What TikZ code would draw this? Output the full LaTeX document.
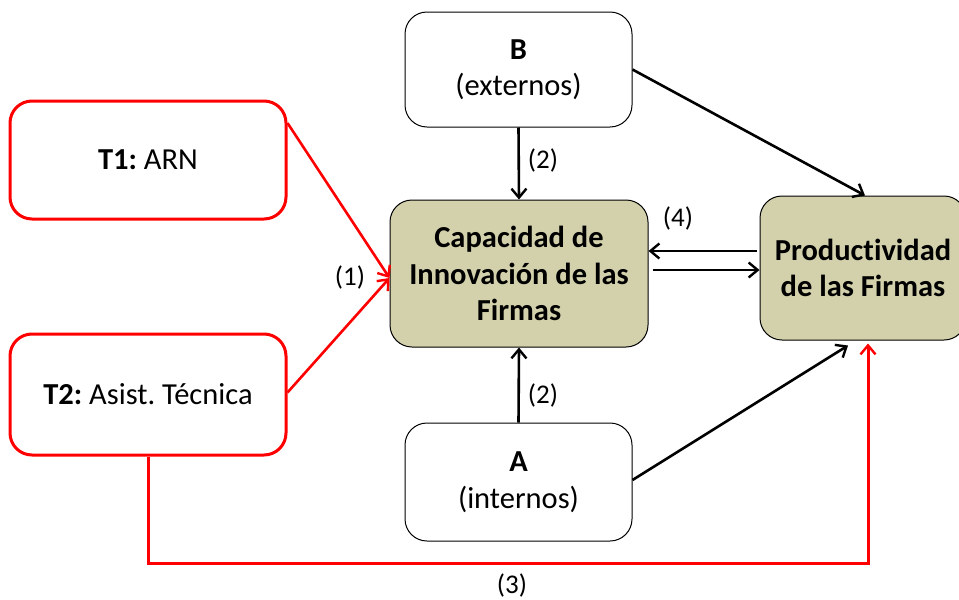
\documentclass[tikz,border=0pt]{standalone}
\usepackage{fontspec}
\setmainfont{Carlito}[Ligatures={NoCommon}]
\frenchspacing
\usetikzlibrary{arrows.meta,calc}
\definecolor{olivefill}{RGB}{211,209,171}
\definecolor{pured}{RGB}{255,0,0}
\tikzset{
  box/.style={draw=black, line width=1pt, rounded corners=22pt, align=center, inner sep=0pt,
    font=\fontsize{30.5}{36.5}\selectfont},
  redbox/.style={box, draw=pured, line width=3pt},
  greybox/.style={box, fill=olivefill},
  blk/.style={line width=2.6pt, draw=black, -{Straight Barb[length=9pt,width=15pt,line width=2.4pt]}},
  redarr/.style={line width=2.6pt, draw=pured, -{Straight Barb[length=9pt,width=15pt,line width=2.4pt]}},
  lbl/.style={font=\fontsize{27}{32}\selectfont, inner sep=0pt}
}
\begin{document}
\begin{tikzpicture}[x=1pt,y=-1pt]
\useasboundingbox (0,0) rectangle (959,600);
\node[box, minimum width=227pt, minimum height=115pt] (b) at (518.5,69.5) {\textbf{B}\\(externos)};
\node[redbox, minimum width=276pt, minimum height=118pt] (t1) at (148,160) {\textbf{T1:} ARN};
\node[redbox, minimum width=276pt, minimum height=121pt] (t2) at (148,394.5) {\textbf{T2:} Asist. Técnica};
\node[greybox, minimum width=258pt, minimum height=147pt] (cap) at (519,273.5) {\textbf{Capacidad de}\\\textbf{Innovación de las}\\\textbf{Firmas}};
\node[greybox, minimum width=206pt, minimum height=144pt] (prod) at (863,268) {\textbf{Productividad}\\\textbf{de las Firmas}};
\node[box, minimum width=227pt, minimum height=118pt] (a) at (518.5,482) {\textbf{A}\\(internos)};

\coordinate (in1) at ($(cap.west)+(0,4.5)$);
\draw[redarr] ($(t1.east)+(0,-37)$) -- (in1);
\draw[redarr] ($(t2.east)+(0,-2)$) -- (in1);
\coordinate (c3) at (148,563);
\draw[line width=3pt, draw=pured, -{Straight Barb[length=9pt,width=15pt,line width=2.4pt]}] (t2.south) -- (c3) -| ($(prod.south)+(5,3)$);

\draw[blk] (b.south) -- (cap.north);
\draw[blk] (a.north) -- (cap.south);
\draw[blk] (b.east) -- ($(prod.north)+(2,0)$);
\draw[blk] ($(a.east)+(0,-2)$) -- ($(prod.south)+(-15,5)$);
\draw[blk] ($(prod.west)+(-3,-17)$) -- ($(cap.east)+(0,-22.5)$);
\draw[blk] ($(cap.east)+(4,-3.5)$) -- ($(prod.west)+(0,2)$);

\node[lbl] (l1) at (350,277) {(1)};
\node[lbl] (l2a) at (543,160) {(2)};
\node[lbl] (l2b) at (543,395) {(2)};
\node[lbl] (l4) at (678,218) {(4)};
\node[lbl] (l3) at (512,585) {(3)};
\end{tikzpicture}
\end{document}
